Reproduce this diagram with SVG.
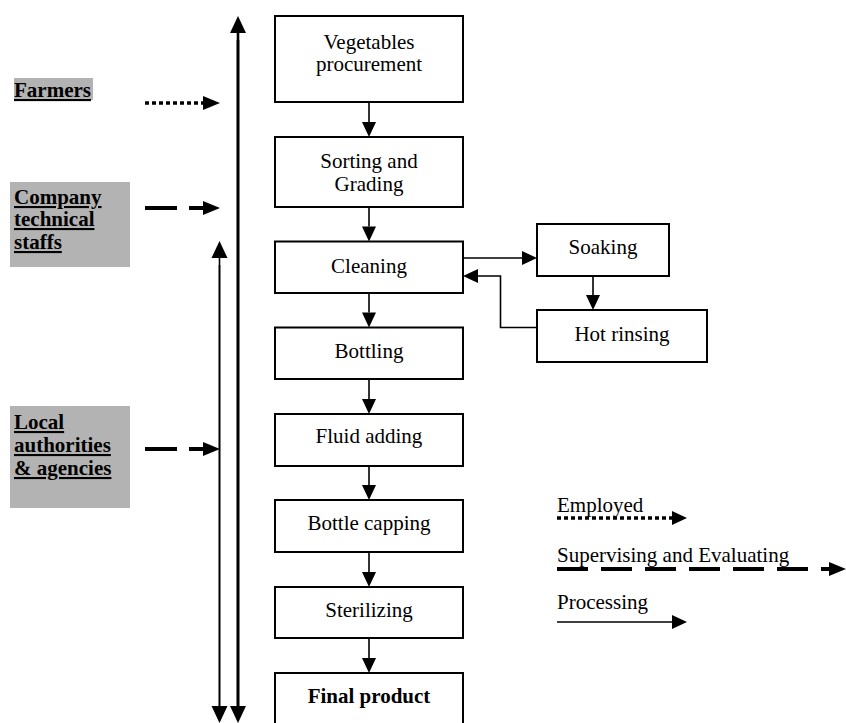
<svg xmlns="http://www.w3.org/2000/svg" width="846" height="723" viewBox="0 0 846 723" font-family="Liberation Serif, Times New Roman, DejaVu Serif, serif">
<style>
text{font-size:21px;fill:#000}
.lbl{font-weight:bold;text-decoration:underline}
.c{text-anchor:middle}
.box{fill:#fff;stroke:#000;stroke-width:2}
.gray{fill:#b3b3b3}
.ln{fill:none;stroke:#000;stroke-width:1.6}
.dot{fill:none;stroke:#000;stroke-width:3.5;stroke-dasharray:4 3}
.dash{fill:none;stroke:#000;stroke-width:4;stroke-dasharray:32 12}
</style>
<defs>
<marker id="a" markerUnits="userSpaceOnUse" markerWidth="15" markerHeight="14" refX="0" refY="7" orient="auto" overflow="visible">
<path d="M0,0 L15,7 L0,14 Z" fill="#000"/>
</marker>
<marker id="A" markerUnits="userSpaceOnUse" markerWidth="17" markerHeight="16" refX="0" refY="8" orient="auto" overflow="visible">
<path d="M0,0 L17,8 L0,16 Z" fill="#000"/>
</marker>
<marker id="B" markerUnits="userSpaceOnUse" markerWidth="17" markerHeight="14" refX="0" refY="7" orient="auto" overflow="visible">
<path d="M0,0 L17,7 L0,14 Z" fill="#000"/>
</marker>
</defs>

<g id="farmers">
<rect class="gray" x="14" y="78" width="79" height="22"/>
<text class="lbl" x="14" y="97">Farmers</text>
</g>
<g id="company">
<rect class="gray" x="10" y="182" width="120" height="85"/>
<text class="lbl" x="14" y="204">Company</text>
<text class="lbl" x="14" y="226">technical</text>
<text class="lbl" x="14" y="249">staffs</text>
</g>
<g id="local">
<rect class="gray" x="10" y="406" width="120" height="102"/>
<text class="lbl" x="14" y="429">Local</text>
<text class="lbl" x="14" y="452">authorities</text>
<text class="lbl" x="14" y="475">&amp; agencies</text>
</g>

<g id="n1"><rect class="box" x="275" y="16" width="188" height="86"/>
<text class="c" x="369" y="49">Vegetables</text><text class="c" x="369" y="71">procurement</text></g>
<g id="n2"><rect class="box" x="275" y="137" width="188" height="70"/>
<text class="c" x="369" y="168">Sorting and</text><text class="c" x="369" y="191">Grading</text></g>
<g id="n3"><rect class="box" x="275" y="241.5" width="188" height="51.5"/>
<text class="c" x="369" y="273">Cleaning</text></g>
<g id="n4"><rect class="box" x="275" y="327.5" width="188" height="51.5"/>
<text class="c" x="369" y="358">Bottling</text></g>
<g id="n5"><rect class="box" x="275" y="414" width="188" height="52"/>
<text class="c" x="369" y="443">Fluid adding</text></g>
<g id="n6"><rect class="box" x="275" y="500" width="188" height="52"/>
<text class="c" x="369" y="530">Bottle capping</text></g>
<g id="n7"><rect class="box" x="275" y="587" width="188" height="51"/>
<text class="c" x="369" y="617">Sterilizing</text></g>
<g id="n8"><rect class="box" x="275" y="673" width="188" height="60"/>
<text class="c" x="369" y="703" font-weight="bold">Final product</text></g>
<g id="soak"><rect class="box" x="537" y="224" width="132" height="52"/>
<text class="c" x="603" y="254">Soaking</text></g>
<g id="rinse"><rect class="box" x="537" y="310" width="170" height="52"/>
<text class="c" x="622" y="341">Hot rinsing</text></g>

<g id="legend">
<text x="557" y="512">Employed</text>
<text x="557" y="562">Supervising and Evaluating</text>
<text x="557" y="609">Processing</text>
</g>

<g id="connectors">
<line class="ln" x1="369" y1="102" x2="369" y2="122" marker-end="url(#a)"/>
<line class="ln" x1="369" y1="207" x2="369" y2="226.5" marker-end="url(#a)"/>
<line class="ln" x1="369" y1="293" x2="369" y2="312.5" marker-end="url(#a)"/>
<line class="ln" x1="369" y1="379" x2="369" y2="399" marker-end="url(#a)"/>
<line class="ln" x1="369" y1="466" x2="369" y2="485" marker-end="url(#a)"/>
<line class="ln" x1="369" y1="552" x2="369" y2="572" marker-end="url(#a)"/>
<line class="ln" x1="369" y1="638" x2="369" y2="658" marker-end="url(#a)"/>
<line class="ln" x1="463" y1="258" x2="522" y2="258" marker-end="url(#a)"/>
<line class="ln" x1="593" y1="276" x2="593" y2="295" marker-end="url(#a)"/>
<polyline class="ln" points="537,327.5 500.5,327.5 500.5,276 478,276" marker-end="url(#a)"/>

<line stroke="#000" stroke-width="2.6" x1="238" y1="706" x2="238" y2="33" marker-end="url(#A)"/>
<line stroke="#000" stroke-width="2.6" x1="238" y1="40" x2="238" y2="706" marker-end="url(#A)"/>
<line stroke="#000" stroke-width="1.6" x1="219.5" y1="706" x2="219.5" y2="258" marker-end="url(#A)"/>
<line stroke="#000" stroke-width="1.6" x1="219.5" y1="265" x2="219.5" y2="706" marker-end="url(#A)"/>

<line class="dot" x1="145" y1="103" x2="203" y2="103" marker-end="url(#B)"/>
<line class="dash" x1="145" y1="208" x2="203" y2="208" marker-end="url(#B)"/>
<line class="dash" x1="145" y1="449" x2="203" y2="449" marker-end="url(#B)"/>

<line class="dot" x1="557" y1="518" x2="672" y2="518" marker-end="url(#a)"/>
<line class="dash" style="stroke-dasharray:31 13" x1="557" y1="569" x2="829" y2="569" marker-end="url(#B)"/>
<line class="ln" x1="557" y1="622" x2="672" y2="622" marker-end="url(#a)"/>
</g>
</svg>
